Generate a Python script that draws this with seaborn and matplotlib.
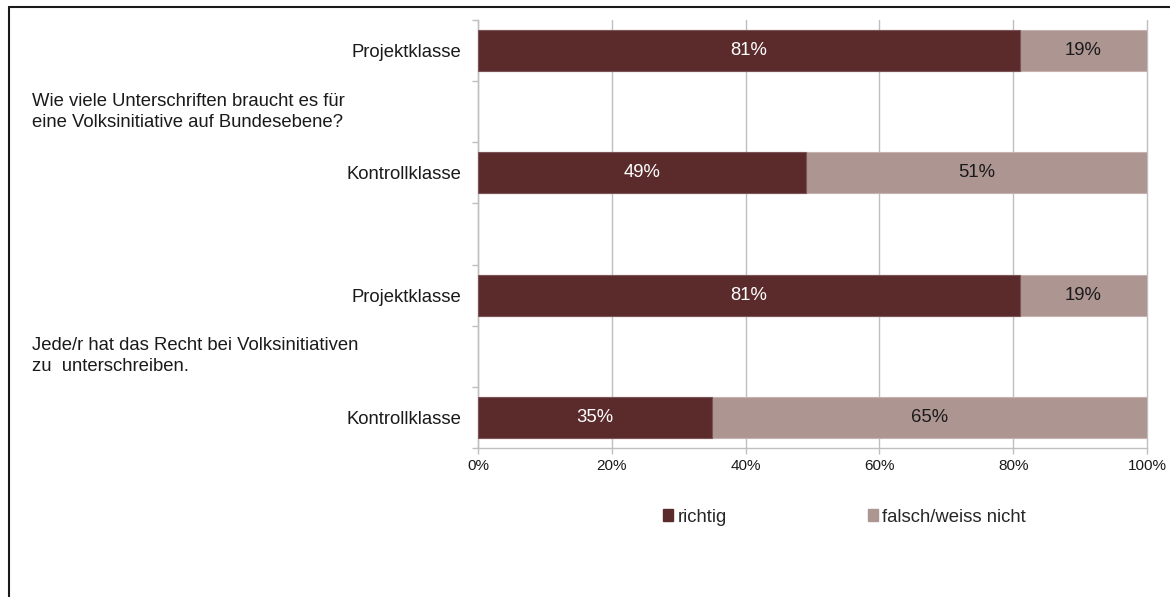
import numpy as np
import pandas as pd
import matplotlib
matplotlib.use("Agg")
import matplotlib.pyplot as plt
import matplotlib.transforms as mtransforms
from matplotlib.patches import Patch
from matplotlib.lines import Line2D
import seaborn as sns

# ---- data ----
questions = [
    "Wie viele Unterschriften braucht es für\neine Volksinitiative auf Bundesebene?",
    "Jede/r hat das Recht bei Volksinitiativen\nzu  unterschreiben.",
]
groups = ["Projektklasse", "Kontrollklasse", "Projektklasse", "Kontrollklasse"]
richtig = [81, 49, 81, 35]
falsch = [19, 51, 19, 65]
x_ticks = [0, 20, 40, 60, 80, 100]
legend_labels = ["richtig", "falsch/weiss nicht"]

DARK = "#5b2b2c"
LIGHT = "#ad9592"
GRID = "#bfbfbf"
FS = 13.3

sns.set_theme(style="white")
plt.rcParams["font.family"] = ["Liberation Sans", "DejaVu Sans"]

pos = np.arange(len(groups)) * 2  # each bar followed by an empty slot
df = pd.DataFrame({"pos": pos, "group": groups, "richtig": richtig, "falsch": falsch})
df["total"] = df["richtig"] + df["falsch"]

W, H = 1170, 597
fig = plt.figure(figsize=(W / 100, H / 100), dpi=100)
fig.patch.set_facecolor("white")
ax = fig.add_axes([478 / W, 1 - 448 / H, (1147 - 478) / W, (448 - 20) / H])

sns.barplot(data=df, x="total", y="pos", orient="h", native_scale=True,
            color=LIGHT, saturation=1, width=0.335, errorbar=None,
            edgecolor="#c6b3b1", linewidth=0.8, ax=ax, zorder=3)
sns.barplot(data=df, x="richtig", y="pos", orient="h", native_scale=True,
            color=DARK, saturation=1, width=0.335, errorbar=None,
            edgecolor="#7c5455", linewidth=0.8, ax=ax, zorder=4)

# value labels
for p, r, f in zip(df["pos"], df["richtig"], df["falsch"]):
    ax.text(r / 2, p, f"{r}%", ha="center", va="center", color="white",
            fontsize=FS, zorder=5)
    ax.text(r + f / 2, p, f"{f}%", ha="center", va="center", color="#1a1a1a",
            fontsize=FS, zorder=5)

ax.set_xlim(0, 100)
ax.set_ylim(pos.max() + 0.5, -0.5)
ax.set_xticks(x_ticks)
ax.set_xticklabels([f"{v}%" for v in x_ticks], fontsize=11, color="#1a1a1a")
ax.set_yticks(pos)
ax.set_yticklabels(groups, fontsize=FS, color="#1a1a1a")
ax.set_yticks(np.arange(-0.5, pos.max() + 1, 1.0), minor=True)
ax.tick_params(axis="y", which="major", length=0, pad=12)
ax.tick_params(axis="y", which="minor", length=4, width=1, color=GRID, direction="out", left=True)
ax.tick_params(axis="x", which="major", length=4, width=1, color=GRID, direction="out", bottom=True, pad=4)
ax.set_xlabel("")
ax.set_ylabel("")

ax.set_axisbelow(True)
ax.xaxis.grid(True, color=GRID, linewidth=1)
ax.yaxis.grid(False)
for gl in ax.get_xgridlines():
    gl.set_clip_on(False)
for s in ["top", "right"]:
    ax.spines[s].set_visible(False)
for s in ["left", "bottom"]:
    ax.spines[s].set_color(GRID)
    ax.spines[s].set_linewidth(1)

# question labels in left margin
trans = mtransforms.blended_transform_factory(fig.transFigure, ax.transData)
for i, q in enumerate(questions):
    ax.text(32 / W, pos[2 * i] + 1, q, transform=trans, ha="left", va="center",
            fontsize=FS, color="#1a1a1a", linespacing=1.3)

# legend
handles = [Patch(facecolor=DARK, edgecolor=DARK), Patch(facecolor=LIGHT, edgecolor=LIGHT)]
fig.legend(handles, legend_labels, loc="center", bbox_to_anchor=(0.722, 1 - 517 / H),
           ncol=2, frameon=False, fontsize=FS, handlelength=0.55, handleheight=0.55,
           handletextpad=0.25, columnspacing=7.6)

# outer frame (left and top visible)
fig.add_artist(Line2D([9 / W, 9 / W], [0, 1 - 7 / H], transform=fig.transFigure,
                      color="#1a1a1a", lw=1.5))
fig.add_artist(Line2D([9 / W, 1], [1 - 7 / H, 1 - 7 / H], transform=fig.transFigure,
                      color="#1a1a1a", lw=1.5))

fig.savefig("out.png", dpi=100)
